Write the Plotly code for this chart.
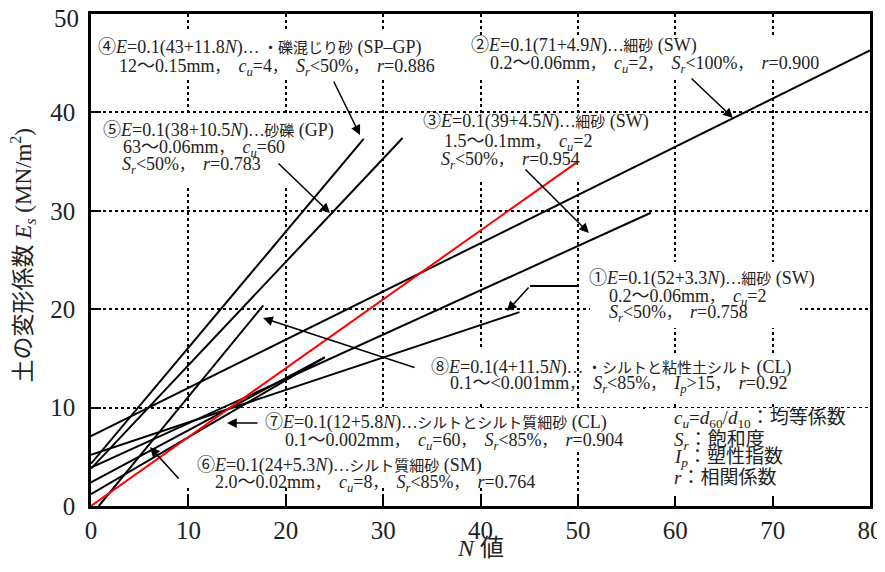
import plotly.graph_objects as go

# ---------------- data ----------------
line_ids = ["①", "②", "③", "④", "⑤", "⑥", "⑦", "⑧"]
n_start = [0, 0, 0, 0, 0, 0, 0, 0.8]
e_start = [5.2, 7.1, 3.9, 4.3, 3.8, 2.4, 1.2, 0.0]
n_end = [44, 80, 57.5, 28, 32, 24, 24, 17.7]
e_end = [19.7, 46.3, 29.8, 37.3, 37.4, 15.1, 15.1, 20.4]

red_n = [0, 50]
red_e = [0, 35]

x_ticks = [0, 10, 20, 30, 40, 50, 60, 70, 80]
y_ticks = [0, 10, 20, 30, 40, 50]
y_ticktext = ["0", "10", "20", "30", "40", ""]

FONT = "'Liberation Serif', 'Noto Sans CJK JP', serif"
TXT = "#222222"

# pixel -> data helpers (layout placement only)
def dx(p):
    return (p - 91) / 779 * 80

def dy(p):
    return (506 - p) / 492 * 50

fig = go.Figure()

for i in range(len(line_ids)):
    fig.add_trace(go.Scatter(
        x=[n_start[i], n_end[i]], y=[e_start[i], e_end[i]],
        mode="lines", line=dict(color="black", width=2),
        name=line_ids[i], showlegend=False, hoverinfo="skip"))

fig.add_trace(go.Scatter(x=red_n, y=red_e, mode="lines",
                         line=dict(color="#ff0000", width=2),
                         showlegend=False, hoverinfo="skip"))

# white label backgrounds (above grid, below data)
boxes = [
    (92, 30, 455, 80), (462, 36, 835, 78), (92, 116, 345, 185),
    (415, 115, 600, 182), (590, 262, 800, 328), (415, 349, 570, 403),
    (590, 353, 800, 403), (180, 408, 640, 452), (180, 452, 560, 488),
    (645, 408, 868, 504),
]
for (x0, y0, x1, y1) in boxes:
    fig.add_shape(type="rect", xref="x", yref="y",
                  x0=dx(x0), x1=dx(x1), y0=dy(y0), y1=dy(y1),
                  fillcolor="white", line=dict(width=0), layer="between")


def jp(s, size=15):
    return '<span style="font-size:%dpx">%s</span>' % (size, s)

C = jp("，") + "\u2002"
EL = jp("⋯")
cu = "<i>c<sub>u</sub></i>"
sr = "<i>S<sub>r</sub></i>"
ip = "<i>I<sub>p</sub></i>"

# text lines: (html, left px, center py, size)
texts = [
    ("④<i>E</i>=0.1(43+11.8<i>N</i>)" + EL + " " + jp("・礫混じり砂") + " (SP–GP)", 96, 47, 18),
    ("12～0.15mm" + C + cu + "=4" + C + sr + "&lt;50%" + C + "<i>r</i>=0.886", 117, 67, 18),
    ("②<i>E</i>=0.1(71+4.9<i>N</i>)" + EL + jp("細砂") + " (SW)", 469, 45, 18),
    ("0.2～0.06mm" + C + cu + "=2" + C + sr + "&lt;100%" + C + "<i>r</i>=0.900", 488, 64, 18),
    ("⑤<i>E</i>=0.1(38+10.5<i>N</i>)" + EL + jp("砂礫") + " (GP)", 101, 130, 18),
    ("63～0.06mm" + C + cu + "=60", 121, 148, 18),
    (sr + "&lt;50%" + C + "<i>r</i>=0.783", 120, 165, 18),
    ("③<i>E</i>=0.1(39+4.5<i>N</i>)" + EL + jp("細砂") + " (SW)", 421, 121, 18),
    ("1.5～0.1mm" + C + cu + "=2", 442, 142, 18),
    (sr + "&lt;50%" + C + "<i>r</i>=0.954", 439, 160, 18),
    ("①<i>E</i>=0.1(52+3.3<i>N</i>)" + EL + jp("細砂") + " (SW)", 587, 278, 18),
    ("0.2～0.06mm" + C + cu + "=2", 607, 297, 18),
    (sr + "&lt;50%" + C + "<i>r</i>=0.758", 607, 313, 18),
    ("⑧<i>E</i>=0.1(4+11.5<i>N</i>)" + EL + " " + jp("・シルトと粘性土シルト") + " (CL)", 429, 367, 18),
    ("0.1～&lt;0.001mm" + C + sr + "&lt;85%" + C + ip + "&gt;15" + C + "<i>r</i>=0.92", 448, 384, 18),
    ("⑦<i>E</i>=0.1(12+5.8<i>N</i>)" + EL + jp("シルトとシルト質細砂") + " (CL)", 263, 422, 18),
    ("0.1～0.002mm" + C + cu + "=60" + C + sr + "&lt;85%" + C + "<i>r</i>=0.904", 283, 441, 18),
    ("⑥<i>E</i>=0.1(24+5.3<i>N</i>)" + EL + jp("シルト質細砂") + " (SM)", 195, 465, 18),
    ("2.0～0.02mm" + C + cu + "=8" + C + sr + "&lt;85%" + C + "<i>r</i>=0.764", 213, 483, 18),
    (cu + "=<i>d</i><sub>60</sub>/<i>d</i><sub>10</sub>：均等係数", 672, 419, 19),
    (sr + "：飽和度", 672, 440, 19),
    (ip + "：塑性指数", 672, 458, 19),
    ("<i>r</i>：相関係数", 672, 477, 19),
]
for (t, px, py, s) in texts:
    fig.add_annotation(x=dx(px), y=dy(py), xref="x", yref="y", text=t,
                       showarrow=False, xanchor="left", yanchor="middle",
                       font=dict(family=FONT, size=s, color=TXT))

# arrows: (tail px, tail py, head px, head py)
arrows = [
    (333, 80, 360, 135), (690, 77, 733, 118), (524, 168, 589, 233),
    (277, 162, 330, 213), (530, 286, 507, 311), (416, 368, 263, 318),
    (259, 423, 227, 423), (180, 480, 150, 447),
]
for (tx, ty, hx, hy) in arrows:
    fig.add_annotation(x=dx(hx), y=dy(hy), ax=dx(tx), ay=dy(ty),
                       xref="x", yref="y", axref="x", ayref="y", text="",
                       showarrow=True, arrowhead=2, arrowsize=1.3,
                       arrowwidth=1.5, arrowcolor="black", standoff=0)

fig.add_shape(type="line", xref="x", yref="y", x0=dx(530), x1=dx(578),
              y0=dy(286), y1=dy(286), line=dict(color="black", width=2))

# top y tick label (drawn as text so it is not dropped at the page edge)
fig.add_annotation(x=0, y=50, xref="paper", yref="y", text="50",
                   showarrow=False, xanchor="right", yanchor="middle",
                   xshift=-11, yshift=-4, borderpad=0,
                   font=dict(family=FONT, size=25, color=TXT))

# axis titles
fig.add_annotation(x=0.5, y=-0.085, xref="paper", yref="paper",
                   text="<i>N</i> 値", showarrow=False,
                   xanchor="center", yanchor="middle",
                   font=dict(family=FONT, size=24, color=TXT))
fig.add_annotation(x=-0.088, y=0.51, xref="paper", yref="paper",
                   text="土の変形係数 <i>E<sub>s</sub></i> (MN/m<sup>2</sup>)",
                   showarrow=False, textangle=-90,
                   xanchor="center", yanchor="middle",
                   font=dict(family=FONT, size=23, color=TXT))

axis_common = dict(showline=True, linecolor="black", linewidth=2.5, mirror=True,
                   showgrid=True, gridcolor="black", gridwidth=1.5, griddash="dot",
                   ticks="inside", ticklen=10, tickwidth=2, tickcolor="black",
                   zeroline=False, automargin=False,
                   tickfont=dict(family=FONT, size=25, color=TXT))

fig.update_xaxes(range=[0, 80], tickvals=x_ticks, **axis_common)
fig.update_yaxes(range=[0, 50], tickvals=y_ticks, ticktext=y_ticktext,
                 ticklabelstandoff=8, **axis_common)

fig.update_layout(width=885, height=572,
                  margin=dict(l=83, r=23, t=6, b=74),
                  plot_bgcolor="white", paper_bgcolor="white",
                  showlegend=False)

fig.write_html("out.html")
